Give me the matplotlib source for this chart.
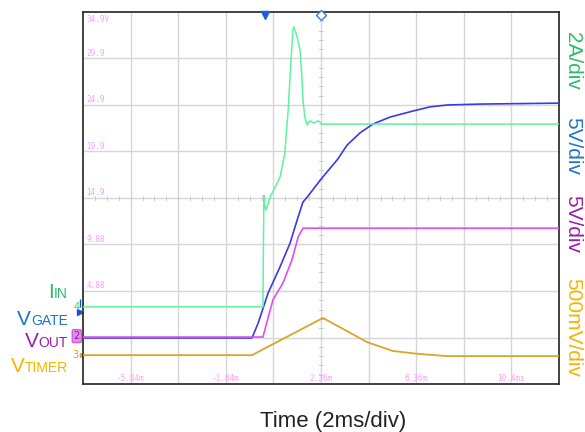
import numpy as np
import matplotlib.pyplot as plt

# Scope screen is 10 x 8 divisions; values below are in divisions
t_in = [0, 3.78, 3.80, 3.82, 3.84, 3.89, 3.93, 4.03, 4.14, 4.24, 4.31, 4.37, 4.41, 4.43,
        4.50, 4.56, 4.60, 4.62, 4.66, 4.71, 4.77, 4.85, 4.94, 5.02, 10]
i_in = [1.66, 1.66, 4.06, 3.85, 3.74, 3.87, 4.02, 4.22, 4.45, 4.97, 5.89, 6.97, 7.61, 7.68,
        7.46, 7.18, 6.60, 6.11, 5.74, 5.57, 5.66, 5.61, 5.66, 5.59, 5.59]

t_gate = [0, 3.55, 3.68, 3.89, 4.14, 4.35, 4.50, 4.62, 4.71, 5.02, 5.34, 5.55, 5.82, 6.09,
          6.45, 6.93, 7.29, 7.65, 8.34, 10]
v_gate = [0.99, 0.99, 1.31, 1.96, 2.52, 3.03, 3.53, 3.91, 4.02, 4.43, 4.82, 5.14, 5.40, 5.59,
          5.74, 5.87, 5.96, 6.00, 6.02, 6.04]

t_out = [0, 3.78, 3.99, 4.20, 4.39, 4.52, 4.62, 10]
v_out = [1.01, 1.01, 1.81, 2.17, 2.67, 3.16, 3.35, 3.35]

t_timer = [0, 3.55, 5.04, 5.97, 6.51, 7.02, 7.65, 10]
v_timer = [0.62, 0.62, 1.42, 0.90, 0.71, 0.65, 0.60, 0.60]

volt_labels = ['34.9V', '29.9', '24.9', '19.9', '14.9', '9.88', '4.88']
time_labels = ['-5.84m', '-1.84m', '2.36m', '6.36m', '10.4ms']
scale_labels = ['2A/div', '5V/div', '5V/div', '500mV/div']

c_in = '#5cf59a'
c_gate = '#3a3ae6'
c_out = '#e04ef0'
c_timer = '#d9a52a'
pink = '#ff9cf5'

W, H = 585, 432
fig = plt.figure(figsize=(W / 100, H / 100), dpi=100)
ax = fig.add_axes([83 / W, 48 / H, 476 / W, 372 / H])
ax.set_xlim(0, 10)
ax.set_ylim(0, 8)
ax.set_xticks([])
ax.set_yticks([])
for s in ax.spines.values():
    s.set_color('#333333')
    s.set_linewidth(1.3)

# graticule
for i in range(1, 10):
    ax.axvline(i, color='#d6d6d6', lw=1, zorder=0)
for j in range(1, 8):
    ax.axhline(j, color='#d6d6d6', lw=1, zorder=0)
for x in np.arange(0.25, 10, 0.25):
    ax.plot([x, x], [3.95, 4.05], color='#cccccc', lw=0.7, zorder=0)
for y in np.arange(0.2, 8, 0.2):
    ax.plot([4.95, 5.05], [y, y], color='#cccccc', lw=0.7, zorder=0)

# traces
ax.plot(t_timer, v_timer, color=c_timer, lw=1.3, zorder=3)
ax.plot(t_gate, v_gate, color=c_gate, lw=1.2, zorder=4)
ax.plot(t_out, v_out, color=c_out, lw=1.2, zorder=5)
ax.plot(t_in, i_in, color=c_in, lw=1.1, zorder=6)

# scope readouts
ax.text(0.07, 7.93, volt_labels[0], color=pink, fontsize=5.5, family='DejaVu Sans Mono',
        va='top', ha='left')
for k, lab in enumerate(volt_labels[1:]):
    ax.text(0.07, 7 - k + 0.02, lab, color=pink, fontsize=5.5, family='DejaVu Sans Mono',
            va='bottom', ha='left')
for k, lab in enumerate(time_labels):
    ax.text(1 + 2 * k, 0.03, lab, color=pink, fontsize=5.5, family='DejaVu Sans Mono',
            va='bottom', ha='center')

# trigger markers on top edge
ax.plot([3.82], [7.93], marker='v', color='#1a5fe0', ms=6, clip_on=False, zorder=7)
ax.plot([5.0], [7.93], marker='D', mfc='white', mec='#3a7ae8', ms=5, mew=1, clip_on=False, zorder=7)

# channel markers on left edge
ax.text(-0.13, 1.66, '4', color='#3cd070', fontsize=7, ha='center', va='center', clip_on=False)
ax.plot([-0.06], [1.55], marker='>', color='#1a4fe0', ms=4, clip_on=False)
ax.plot([-0.06], [1.75], marker='|', color='#1a4fe0', ms=6, clip_on=False)
ax.text(-0.13, 1.03, '2', color='#8a1a9a', fontsize=7, ha='center', va='center', clip_on=False,
        bbox=dict(boxstyle='round,pad=0.15', fc='#ea8af0', ec='#d060e0'))
ax.text(-0.15, 0.62, '3', color=c_timer, fontsize=7, ha='center', va='center', clip_on=False)
ax.plot([-0.03], [0.62], marker='>', color=c_timer, ms=3, clip_on=False)

# channel names (big letter + small caps subscript)
rend = fig.canvas.get_renderer()
names = [('I', 'IN', 298, '#2dbb6a'), ('V', 'GATE', 325, '#1f74c8'),
         ('V', 'OUT', 347, '#9a1ea8'), ('V', 'TIMER', 372, '#f5b400')]
for big, small, ypx, col in names:
    t = fig.text(68 / W, 1 - ypx / H, small, fontsize=10, color=col, ha='right', va='baseline',
                 family='Liberation Sans')
    w = t.get_window_extent(rend).width
    fig.text((68 - w) / W, 1 - ypx / H, big, fontsize=15, color=col, ha='right', va='baseline',
             family='Liberation Sans')

# volts/div labels on right
right_y = [61, 146, 224, 328]
right_c = ['#2dbb6a', '#1f74c8', '#9a1ea8', '#f5b400']
for lab, ypx, col in zip(scale_labels, right_y, right_c):
    fig.text(573 / W, 1 - ypx / H, lab, rotation=-90, fontsize=15, color=col, ha='center',
             va='center', family='Liberation Sans')

fig.text(333 / W, 1 - 422 / H, 'Time (2ms/div)', fontsize=16, color='#222222', ha='center',
         va='center', family='Liberation Sans')

fig.savefig('out.png', dpi=100)
